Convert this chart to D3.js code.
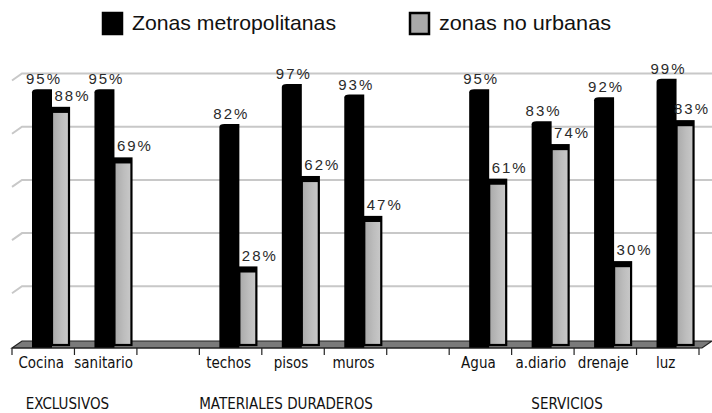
<!DOCTYPE html>
<html>
<head>
<meta charset="utf-8">
<script src="https://cdn.jsdelivr.net/npm/d3@7"></script>
<style>
  html, body { margin: 0; padding: 0; background: #fff; }
  svg { display: block; }
</style>
</head>
<body>
<div class="canvas"></div>
<script>
// Data
const categories = ['Cocina', 'sanitario', '_gap1', 'techos', 'pisos', 'muros', '_gap2', 'Agua', 'a.diario', 'drenaje', 'luz'];
const metro = [95, 95, null, 82, 97, 93, null, 95, 83, 92, 99];
const rural = [88, 69, null, 28, 62, 47, null, 61, 74, 30, 83];
const seriesNames = ['Zonas metropolitanas', 'zonas no urbanas'];
const groupNames = ['EXCLUSIVOS', 'MATERIALES DURADEROS', 'SERVICIOS'];
const groupSpans = [[0, 1], [3, 5], [7, 10]];
const gridValues = [20, 40, 60, 80, 100];

// Setup dimensions
const dims = { width: 712, height: 413 };
const depth = { dx: 10, dy: -7 };   // fake 3d depth of the floor / side wall
const floorFront = 348;

const svg = d3.select('.canvas')
  .append('svg')
  .attr('width', dims.width)
  .attr('height', dims.height);

const defs = svg.append('defs');
const grad = defs.append('linearGradient').attr('id', 'grayBar');
grad.append('stop').attr('offset', '0%').attr('stop-color', '#a9a9a9');
grad.append('stop').attr('offset', '55%').attr('stop-color', '#bdbdbd');
grad.append('stop').attr('offset', '100%').attr('stop-color', '#c9c9c9');

const x = d3.scaleBand()
  .domain(categories)
  .range([12, 699])
  .padding(0);

const y = d3.scaleLinear()
  .domain([0, 100])
  .range([342, 76]);

// back wall gridlines (with a small slanted piece on the side wall)
const grid = svg.append('g');
gridValues.forEach(v => {
  const yy = y(v) - 2.5;
  grid.append('path')
    .attr('d', `M12,${yy - depth.dy}L${12 + depth.dx},${yy}L712,${yy}`)
    .attr('fill', 'none')
    .attr('stroke', '#c8c8c8')
    .attr('stroke-width', 2);
});

// floor
const x0 = x.range()[0], x1 = x.range()[1];
svg.append('path')
  .attr('d', `M${x0},${floorFront}L${x0 + depth.dx},${floorFront + depth.dy}` +
             `L${x1 + 13},${floorFront + depth.dy}L${x1 + 3},${floorFront}Z`)
  .attr('fill', '#7a7a7a')
  .attr('stroke', '#222')
  .attr('stroke-width', 1.2);

// bars
const bw = { metro: 20, rural: 17 };
const barOff = { metro: 20, rural: 40 };
const bars = svg.append('g');

categories.forEach((c, i) => {
  if (metro[i] == null) return;
  const bx = x(c);

  // gray bar (behind the black one)
  const gx = bx + barOff.rural;
  const gy = y(rural[i]);
  bars.append('rect')
    .attr('x', gx).attr('y', gy)
    .attr('width', bw.rural).attr('height', floorFront - 3 - gy)
    .attr('fill', 'url(#grayBar)')
    .attr('stroke', '#000')
    .attr('stroke-width', 2.2);
  bars.append('rect')
    .attr('x', gx).attr('y', gy)
    .attr('width', bw.rural).attr('height', 5)
    .attr('fill', '#000');

  // black bar
  const mx = bx + barOff.metro;
  const my = y(metro[i]);
  bars.append('path')
    .attr('d', `M${mx},${floorFront}L${mx},${my + 3}Q${mx},${my} ${mx + 5},${my}` +
               `L${mx + bw.metro},${my}L${mx + bw.metro},${floorFront}Z`)
    .attr('fill', '#000');
});

// value labels
const labels = svg.append('g')
  .attr('font-family', 'Liberation Sans, Arial, sans-serif')
  .attr('font-size', 15)
  .attr('letter-spacing', 2)
  .attr('fill', '#2a2a2a')
  .attr('text-anchor', 'middle');

categories.forEach((c, i) => {
  if (metro[i] == null) return;
  labels.append('text')
    .attr('x', x(c) + barOff.metro + bw.metro / 2 + 2)
    .attr('y', y(metro[i]) - 5)
    .text(metro[i] + '%');
  labels.append('text')
    .attr('x', Math.min(x(c) + barOff.rural + bw.rural / 2 + 12, 692))
    .attr('y', y(rural[i]) - 7)
    .text(rural[i] + '%');
});

// category axis along the front floor edge
const axis = svg.append('g')
  .attr('transform', `translate(0, ${floorFront})`);

axis.append('line')
  .attr('x1', x0).attr('x2', x1)
  .attr('stroke', '#222').attr('stroke-width', 1.2);

const bounds = categories.map(c => x(c)).concat([x1]);
axis.selectAll('.tick-b')
  .data(bounds)
  .enter().append('line')
    .attr('x1', d => d).attr('x2', d => d)
    .attr('y1', 0).attr('y2', 7)
    .attr('stroke', '#222').attr('stroke-width', 1.2);

axis.selectAll('.cat')
  .data(categories.filter(c => !c.startsWith('_')))
  .enter().append('text')
    .attr('x', d => x(d) + x.bandwidth() / 2 - 2)
    .attr('y', 20)
    .attr('text-anchor', 'middle')
    .attr('font-family', 'DejaVu Sans Condensed, DejaVu Sans, sans-serif')
    .attr('font-size', 15)
    .attr('fill', '#111')
    .text(d => d);

// group labels
svg.append('g')
  .selectAll('text')
  .data(groupNames)
  .enter().append('text')
    .attr('x', (d, i) => (x(categories[groupSpans[i][0]]) + x(categories[groupSpans[i][1]]) + x.bandwidth()) / 2 - 7)
    .attr('y', 409)
    .attr('text-anchor', 'middle')
    .attr('font-family', 'DejaVu Sans Condensed, DejaVu Sans, sans-serif')
    .attr('font-size', 15)
    .attr('fill', '#111')
    .text(d => d);

// legend
const legend = svg.append('g')
  .attr('font-family', 'Liberation Sans, Arial, sans-serif')
  .attr('font-size', 21)
  .attr('fill', '#111');

const legendItems = [
  { name: seriesNames[0], x: 102, fill: '#000', textLen: 204 },
  { name: seriesNames[1], x: 409, fill: '#a9a9a9', textLen: 172 }
];
legendItems.forEach(d => {
  legend.append('rect')
    .attr('x', d.x + 1).attr('y', 13)
    .attr('width', 19).attr('height', 21)
    .attr('fill', d.fill)
    .attr('stroke', '#000')
    .attr('stroke-width', 2.5);
  legend.append('text')
    .attr('x', d.x + 30)
    .attr('y', 30)
    .attr('textLength', d.textLen)
    .attr('lengthAdjust', 'spacingAndGlyphs')
    .text(d.name);
});
</script>
</body>
</html>
